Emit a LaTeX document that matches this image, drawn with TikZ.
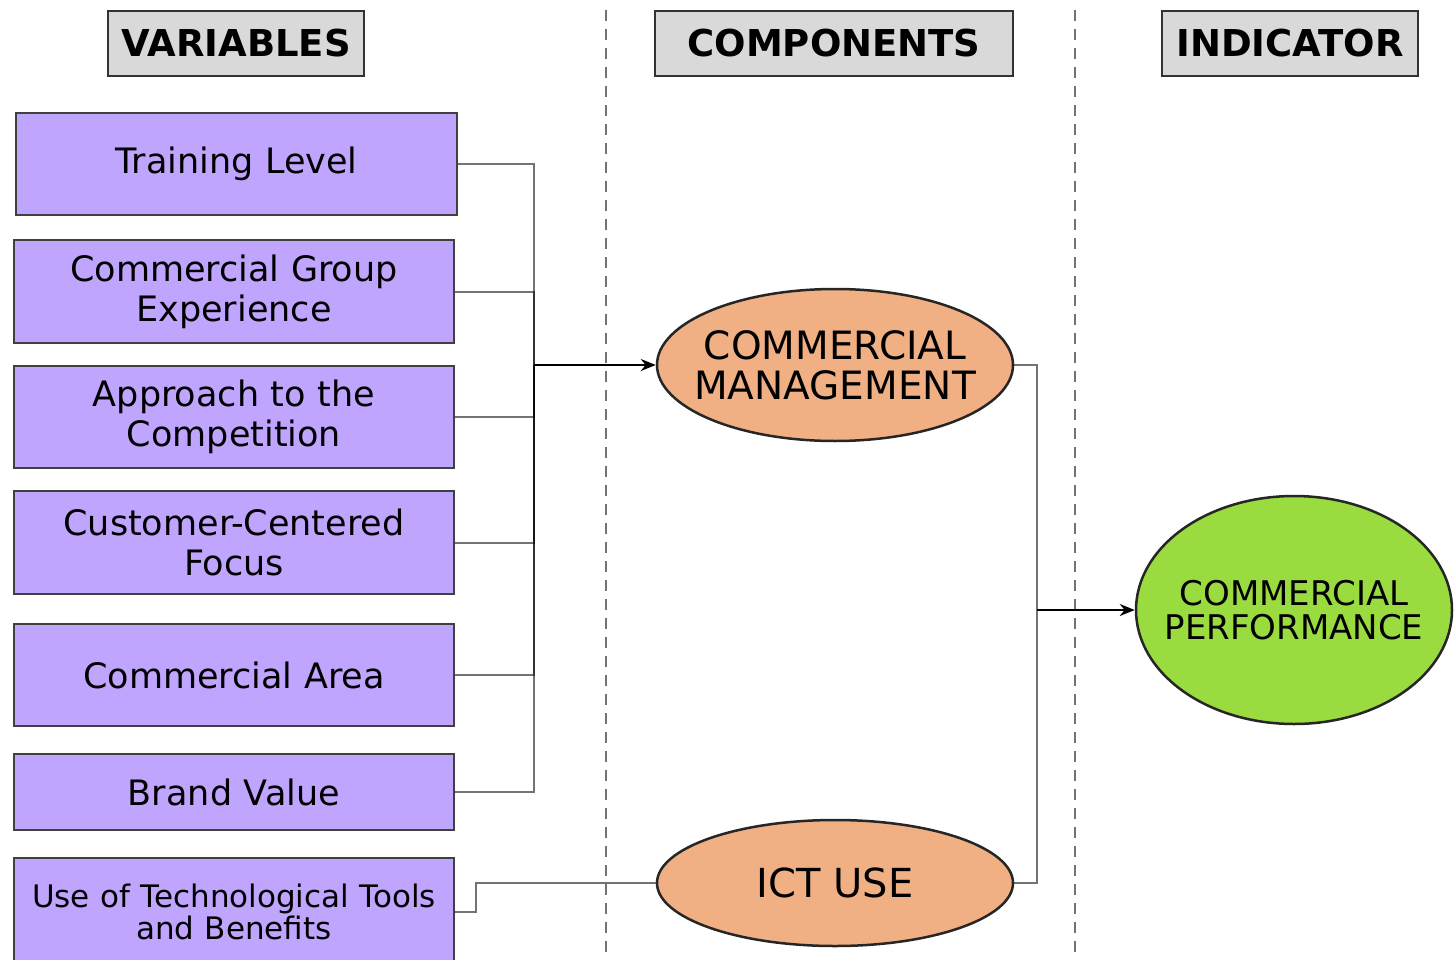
\documentclass[tikz,border=0pt]{standalone}
\usepackage{fontspec}
\setmainfont{DejaVu Sans}
\usetikzlibrary{shapes.geometric,arrows.meta}
\definecolor{varfill}{HTML}{C0A5FF}
\definecolor{compfill}{HTML}{F0B084}
\definecolor{indfill}{HTML}{9ADC40}
\definecolor{headfill}{HTML}{D9D9D9}
\tikzset{
	headbox/.style={draw=black!80,line width=2.5pt,fill=headfill,minimum width=256pt,minimum height=65pt,inner sep=0pt,font=\fontsize{37}{40}\selectfont\bfseries},
	varbox/.style={draw=black!75,line width=2.5pt,fill=varfill,minimum width=440pt,text width=430pt,align=center,inner sep=0pt,font=\fontsize{35}{40}\selectfont},
	comp/.style={ellipse,draw=black!85,line width=2.5pt,fill=compfill,minimum width=356pt,inner xsep=-30pt,inner ysep=0pt,align=center,font=\fontsize{39}{40}\selectfont},
	link/.style={line width=2pt,draw=black,draw opacity=0.55},
	feed/.style={-{Stealth[length=15pt,width=12pt]},line width=2pt},
	sep/.style={line width=2.5pt,draw=black!55,dash pattern=on 11pt off 8pt}
}
\begin{document}
\begin{tikzpicture}[x=1pt,y=-1pt]
	\clip (0,0) rectangle (1455,960);
	\fill[white] (0,0) rectangle (1455,960);
	\draw[sep] (606,10) -- (606,960);
	\draw[sep] (1075,10) -- (1075,960);
	\node[headbox] (hvar) at (236,43.5) {VARIABLES};
	\node[headbox,minimum width=358pt] (hcomp) at (834,43.5) {COMPONENTS};
	\node[headbox] (hind) at (1290,43.5) {INDICATOR};
	\node[varbox,minimum width=441pt,minimum height=102pt] (train) at (236.5,164) {Training Level};
	\node[varbox,minimum height=103pt] (group) at (234,291.5) {Commercial Group\\Experience};
	\node[varbox,minimum height=102pt] (approach) at (234,417) {Approach to the\\Competition};
	\node[varbox,minimum height=103pt] (focus) at (234,542.5) {Customer-Centered\\Focus};
	\node[varbox,minimum height=102pt] (area) at (234,675) {Commercial Area};
	\node[varbox,minimum height=76pt] (brand) at (234,792) {Brand Value};
	\node[varbox,minimum height=108pt,font=\fontsize{31}{32}\selectfont] (tools) at (234,912) {Use of Technological Tools\\and Benefits};
	\node[comp,minimum height=152pt] (mgmt) at (835,365) {COMMERCIAL\\MANAGEMENT};
	\node[comp,minimum height=126pt,font=\fontsize{40}{40}\selectfont] (ict) at (835,883) {ICT USE};
	\node[comp,fill=indfill,minimum width=316pt,minimum height=228pt,font=\fontsize{34}{34}\selectfont] (perf) at (1294,610) {COMMERCIAL\\PERFORMANCE};
	\coordinate (bus) at (534,365);
	\coordinate (join) at (1037,610);
	\foreach \v in {train,group,approach,focus,area,brand}
		\draw[link] (\v.east) -| (bus);
	\draw[feed] (bus) -- (mgmt.west);
	\draw[link] (ict.west) -- ++(-180,0) |- (tools.east);
	\draw[link] (mgmt.east) -| (join);
	\draw[link] (ict.east) -| (join);
	\draw[feed] (join) -- (perf.west);
\end{tikzpicture}
\end{document}
